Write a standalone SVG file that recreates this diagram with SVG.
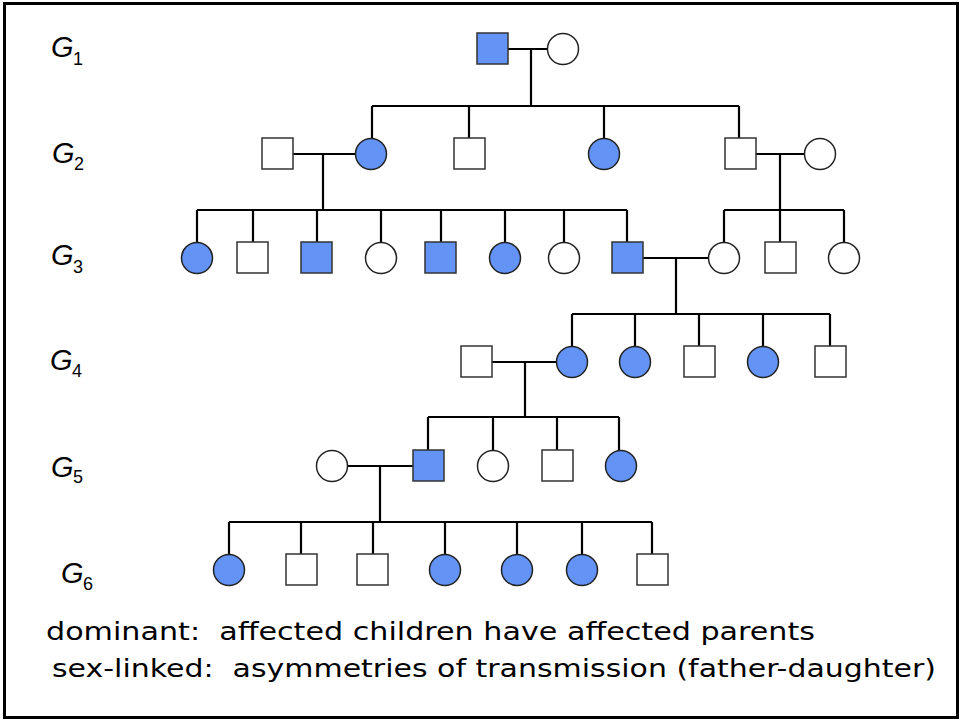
<svg xmlns="http://www.w3.org/2000/svg" width="961" height="721" viewBox="0 0 961 721">
<style>
  .sq{stroke:#333;stroke-width:1.5}
  .ci{stroke:#222;stroke-width:1.5}
  .a{fill:#6393F5}
  .u{fill:#fff}
  .ln{stroke:#000;stroke-width:2.2;fill:none}
  .g{font-family:"Liberation Sans",Arial,sans-serif;font-style:italic;font-size:29px;fill:#000}
  .s{font-family:"Liberation Sans",Arial,sans-serif;font-size:18px;fill:#000}
  .t{font-family:"DejaVu Sans","Liberation Sans",sans-serif;font-size:25px;fill:#000;white-space:pre}
</style>
<rect x="0" y="0" width="961" height="721" fill="#fff"/>
<rect x="4.5" y="3.5" width="953" height="714" fill="none" stroke="#000" stroke-width="3"/>

<g id="labels">
  <text class="g" x="51" y="57">G</text><text class="s" x="73" y="65">1</text>
  <text class="g" x="52" y="163">G</text><text class="s" x="74" y="170">2</text>
  <text class="g" x="51" y="265">G</text><text class="s" x="73" y="273">3</text>
  <text class="g" x="50" y="370">G</text><text class="s" x="72" y="377">4</text>
  <text class="g" x="51" y="477">G</text><text class="s" x="73" y="483">5</text>
  <text class="g" x="61" y="583">G</text><text class="s" x="83" y="590">6</text>
</g>

<g id="connectors">
  <path class="ln" d="M508 49H547M531 49V106M372 106H739M372 106V138M469 106V138M604 106V138M739 106V138"/>
  <path class="ln" d="M293 154H355M323 154V210M197 210H627M197 210V242M253 210V242M317 210V242M381 210V242M441 210V242M505 210V242M564 210V242M627 210V242"/>
  <path class="ln" d="M756 154H804M780 154V242M724 210H844M724 210V242M844 210V242"/>
  <path class="ln" d="M643 258H708M676 258V314M572 314H830M572 314V346M635 314V346M699 314V346M763 314V346M830 314V346"/>
  <path class="ln" d="M492 362H556M525 362V417M428 417H619M428 417V450M493 417V450M557 417V450M619 417V450"/>
  <path class="ln" d="M347 466H413M380 466V522M229 522H652M229 522V554M301 522V554M373 522V554M445 522V554M517 522V554M582 522V554M652 522V554"/>
</g>

<g id="gen1">
  <g id="n1a"><rect class="sq a" x="477" y="33" width="31" height="31"/></g>
  <g id="n1b"><circle class="ci u" cx="563" cy="49" r="15.5"/></g>
</g>
<g id="gen2">
  <g id="n2a"><rect class="sq u" x="262" y="138" width="31" height="31"/></g>
  <g id="n2b"><circle class="ci a" cx="371" cy="154" r="15.5"/></g>
  <g id="n2c"><rect class="sq u" x="454" y="138" width="31" height="31"/></g>
  <g id="n2d"><circle class="ci a" cx="604" cy="154" r="15.5"/></g>
  <g id="n2e"><rect class="sq u" x="725" y="138" width="31" height="31"/></g>
  <g id="n2f"><circle class="ci u" cx="820" cy="154" r="15.5"/></g>
</g>
<g id="gen3">
  <g id="n3a"><circle class="ci a" cx="197" cy="258" r="15.5"/></g>
  <g id="n3b"><rect class="sq u" x="237" y="242" width="31" height="31"/></g>
  <g id="n3c"><rect class="sq a" x="301" y="242" width="31" height="31"/></g>
  <g id="n3d"><circle class="ci u" cx="381" cy="258" r="15.5"/></g>
  <g id="n3e"><rect class="sq a" x="425" y="242" width="31" height="31"/></g>
  <g id="n3f"><circle class="ci a" cx="505" cy="258" r="15.5"/></g>
  <g id="n3g"><circle class="ci u" cx="564" cy="258" r="15.5"/></g>
  <g id="n3h"><rect class="sq a" x="612" y="242" width="31" height="31"/></g>
  <g id="n3i"><circle class="ci u" cx="724" cy="258" r="15.5"/></g>
  <g id="n3j"><rect class="sq u" x="765" y="242" width="31" height="31"/></g>
  <g id="n3k"><circle class="ci u" cx="844" cy="258" r="15.5"/></g>
</g>
<g id="gen4">
  <g id="n4a"><rect class="sq u" x="461" y="346" width="31" height="31"/></g>
  <g id="n4b"><circle class="ci a" cx="572" cy="362" r="15.5"/></g>
  <g id="n4c"><circle class="ci a" cx="635" cy="362" r="15.5"/></g>
  <g id="n4d"><rect class="sq u" x="684" y="346" width="31" height="31"/></g>
  <g id="n4e"><circle class="ci a" cx="763" cy="362" r="15.5"/></g>
  <g id="n4f"><rect class="sq u" x="815" y="346" width="31" height="31"/></g>
</g>
<g id="gen5">
  <g id="n5a"><circle class="ci u" cx="332" cy="466" r="15.5"/></g>
  <g id="n5b"><rect class="sq a" x="413" y="450" width="31" height="31"/></g>
  <g id="n5c"><circle class="ci u" cx="493" cy="466" r="15.5"/></g>
  <g id="n5d"><rect class="sq u" x="542" y="450" width="31" height="31"/></g>
  <g id="n5e"><circle class="ci a" cx="621" cy="466" r="15.5"/></g>
</g>
<g id="gen6">
  <g id="n6a"><circle class="ci a" cx="229" cy="570" r="15.5"/></g>
  <g id="n6b"><rect class="sq u" x="286" y="554" width="31" height="31"/></g>
  <g id="n6c"><rect class="sq u" x="357" y="554" width="31" height="31"/></g>
  <g id="n6d"><circle class="ci a" cx="445" cy="570" r="15.5"/></g>
  <g id="n6e"><circle class="ci a" cx="517" cy="570" r="15.5"/></g>
  <g id="n6f"><circle class="ci a" cx="582" cy="570" r="15.5"/></g>
  <g id="n6g"><rect class="sq u" x="637" y="554" width="31" height="31"/></g>
</g>

<g id="caption">
  <text class="t" x="46" y="640" textLength="769" lengthAdjust="spacingAndGlyphs" xml:space="preserve">dominant:  affected children have affected parents</text>
  <text class="t" x="52" y="677" textLength="884" lengthAdjust="spacingAndGlyphs" xml:space="preserve">sex-linked:  asymmetries of transmission (father-daughter)</text>
</g>
</svg>
